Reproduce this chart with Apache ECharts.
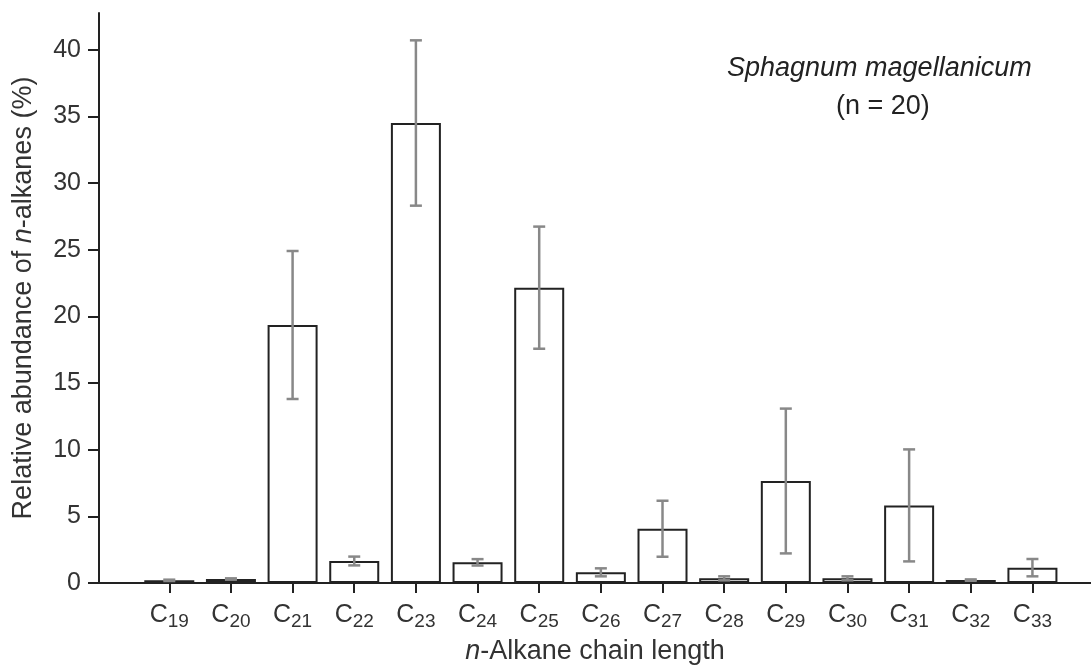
<!DOCTYPE html>
<html>
<head>
<meta charset="utf-8">
<script src="https://cdn.jsdelivr.net/npm/echarts@6/dist/echarts.min.js"></script>
<style>
html,body{margin:0;padding:0;background:#fff;}
#chart{width:1091px;height:668px;}
</style>
</head>
<body>
<div id="chart"></div>
<script>
// chain length (carbon number)
var chainLengths = [19, 20, 21, 22, 23, 24, 25, 26, 27, 28, 29, 30, 31, 32, 33];
// mean relative abundance (%)
var meanValues = [0.2, 0.3, 19.35, 1.65, 34.5, 1.55, 22.15, 0.8, 4.07, 0.35, 7.65, 0.35, 5.82, 0.22, 1.15];
// standard deviation (%)
var sdValues = [0.05, 0.05, 5.55, 0.33, 6.2, 0.24, 4.58, 0.3, 2.1, 0.15, 5.43, 0.15, 4.2, 0.05, 0.65];
var yTicks = [0, 5, 10, 15, 20, 25, 30, 35, 40];

var FONT = '"Liberation Sans", Arial, sans-serif';
var chart = echarts.init(document.getElementById('chart'));

var barData = chainLengths.map(function (c, i) { return [c, meanValues[i]]; });
var errData = chainLengths.map(function (c, i) { return [c, meanValues[i] - sdValues[i], meanValues[i] + sdValues[i]]; });

chart.setOption({
  animation: false,
  backgroundColor: '#fff',
  grid: { left: 99, right: 0, top: 13, bottom: 85, containLabel: false, outerBoundsMode: 'none' },
  xAxis: [{
    type: 'value',
    min: 17.86,
    max: 33.95,
    splitLine: { show: false },
    axisLine: { show: true, onZero: false, lineStyle: { color: '#222', width: 2 } },
    axisTick: { show: true, customValues: chainLengths, length: 10, lineStyle: { color: '#222', width: 2 } },
    axisLabel: {
      customValues: chainLengths,
      margin: 18,
      formatter: function (v) { return '{c|C}{s|' + v + '}'; },
      rich: {
        c: { fontFamily: FONT, fontSize: 25, color: '#333', lineHeight: 28 },
        s: { fontFamily: FONT, fontSize: 19, color: '#333', padding: [13, 0, 0, 0], lineHeight: 28 }
      }
    },
    name: '{i|n}{a|-Alkane chain length}',
    nameLocation: 'middle',
    nameGap: 55,
    nameTextStyle: {
      rich: {
        i: { fontFamily: FONT, fontSize: 27, fontStyle: 'italic', color: '#333' },
        a: { fontFamily: FONT, fontSize: 27, color: '#333' }
      }
    }
  }, {
    type: 'value',
    position: 'top',
    min: 17.86,
    max: 33.95,
    splitLine: { show: false },
    axisLine: { show: true, lineStyle: { color: '#222', width: 2 } },
    axisTick: { show: false },
    axisLabel: { show: false }
  }],
  yAxis: {
    type: 'value',
    min: 0,
    max: 42.75,
    interval: 5,
    splitLine: { show: false },
    axisLine: { show: true, lineStyle: { color: '#222', width: 2 } },
    axisTick: { show: true, customValues: yTicks, length: 11, lineStyle: { color: '#222', width: 2 } },
    axisLabel: {
      customValues: yTicks,
      margin: 18,
      fontFamily: FONT, fontSize: 25, color: '#333'
    },
    name: '{a|Relative abundance of }{i|n}{a|-alkanes (%)}',
    nameLocation: 'middle',
    nameGap: 62,
    nameRotate: 90,
    nameTextStyle: {
      rich: {
        i: { fontFamily: FONT, fontSize: 27, fontStyle: 'italic', color: '#333' },
        a: { fontFamily: FONT, fontSize: 27, color: '#333' }
      }
    }
  },
  graphic: [{
    type: 'text',
    left: 727, top: 55,
    style: { text: 'Sphagnum magellanicum', fontFamily: FONT, fontSize: 27, fontStyle: 'italic', fill: '#222' }
  }, {
    type: 'text',
    left: 836, top: 93,
    style: { text: '(n = 20)', fontFamily: FONT, fontSize: 27, fill: '#222' }
  }],
  series: [{
    type: 'bar',
    xAxisIndex: 0,
    data: barData,
    barWidth: 50,
    itemStyle: { color: '#fff', borderColor: '#222', borderWidth: 2 },
    z: 2
  }, {
    type: 'custom',
    xAxisIndex: 0,
    data: errData,
    z: 3,
    renderItem: function (params, api) {
      var x = api.value(0);
      var lo = api.coord([x, api.value(1)]);
      var hi = api.coord([x, api.value(2)]);
      var hw = 6;
      var st = { stroke: '#888', lineWidth: 2.5 };
      return {
        type: 'group',
        children: [
          { type: 'line', shape: { x1: lo[0], y1: lo[1], x2: hi[0], y2: hi[1] }, style: st },
          { type: 'line', shape: { x1: hi[0] - hw, y1: hi[1], x2: hi[0] + hw, y2: hi[1] }, style: st },
          { type: 'line', shape: { x1: lo[0] - hw, y1: lo[1], x2: lo[0] + hw, y2: lo[1] }, style: st }
        ]
      };
    }
  }]
});
</script>
</body>
</html>
